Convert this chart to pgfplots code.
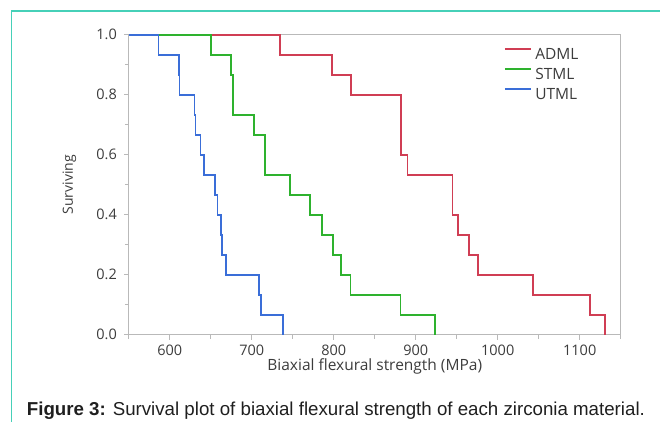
\documentclass[border=0pt]{standalone}
\usepackage{fontspec}
\setmainfont{Open Sans}
\newfontfamily\capfont{Liberation Sans}
\usepackage{pgfplots}
\pgfplotsset{compat=1.18}
\definecolor{admlred}{RGB}{208,62,84}
\definecolor{stmlgreen}{RGB}{46,178,46}
\definecolor{utmlblue}{RGB}{58,110,216}
\definecolor{framegray}{RGB}{185,185,185}
\definecolor{tealframe}{RGB}{70,208,184}
\definecolor{labgray}{RGB}{60,60,60}
\pgfplotstableread{
x y
550 1
734.4 0.9333
797.9 0.8667
821.5 0.8
881.7 0.6
889.9 0.5333
944.9 0.4
951.7 0.3333
965.1 0.2667
976.1 0.2
1043.3 0.1333
1112.5 0.0667
1131 0
}\adml
\pgfplotstableread{
x y
550 1
649.8 0.9333
674.2 0.8667
677 0.7333
702.6 0.6667
716.5 0.5333
746.2 0.4667
771.5 0.4
786.1 0.3333
799.1 0.2667
809.3 0.2
820.3 0.1333
881.4 0.0667
923.5 0
}\stml
\pgfplotstableread{
x y
550 1
586.3 0.9333
611 0.8667
611.9 0.8
630.2 0.7333
631.4 0.6667
637.5 0.6
641.6 0.5333
655.5 0.4667
658.3 0.4
662 0.3333
663.6 0.2667
668.1 0.2
708.4 0.1333
710.8 0.0667
738.5 0
}\utml
\begin{document}
\begin{tikzpicture}[x=1pt,y=1pt]
\path[use as bounding box] (0,0) rectangle (660,421);
\draw[tealframe, line width=1.8pt] (11.5,-10) -- (11.5,410) -- (680,410);
\begin{axis}[
  at={(128.8pt,86.3pt)}, anchor=south west,
  scale only axis, width=491.9pt, height=300pt,
  xmin=550, xmax=1150, ymin=0, ymax=1,
  xtick={600,700,800,900,1000,1100},
  minor xtick={550,650,750,850,950,1050,1150},
  ytick={0,0.2,0.4,0.6,0.8,1.0},
  minor ytick={0.1,0.3,0.5,0.7,0.9},
  tick align=outside, tick pos=left,
  axis line style={framegray, line width=1pt},
  major tick length=5pt, minor tick length=4pt,
  every tick/.style={framegray, line width=0.8pt},
  /pgf/number format/assume math mode=true,
  yticklabel style={/pgf/number format/.cd, fixed, fixed zerofill, precision=1, /tikz/.cd, xshift=-3.4pt},
  xticklabel style={/pgf/number format/.cd, fixed, set thousands separator={}, /tikz/.cd, yshift=-1.5pt},
  ticklabel style={font=\fontsize{14.5}{16}\selectfont, text=labgray},
  xlabel={Biaxial flexural strength (MPa)},
  ylabel={Surviving},
  xlabel style={at={([yshift=-35.3pt]axis description cs:0.5,0)}, anchor=base, inner sep=0pt,
    font=\fontsize{15.5}{17}\selectfont, text=labgray},
  ylabel style={at={([xshift=-59.5pt]axis description cs:0,0.5)}, anchor=center, inner sep=0pt,
    font=\fontsize{14}{16}\selectfont, text=labgray},
  legend style={draw=none, fill=none, at={(axis cs:1007.5,0.955)}, anchor=north west,
    inner sep=0pt, row sep=8.5pt,
    nodes={inner sep=0pt, text height=10.5pt, text depth=0pt, font=\fontsize{15.5}{17}\selectfont, text=labgray},
    /tikz/every odd column/.append style={column sep=3.5pt}},
  legend image code/.code={\draw[#1] (0pt,5.25pt) -- (26pt,5.25pt);},
  legend cell align=left,
]
\addplot[const plot, admlred, line width=1.8pt] table[x=x,y=y] {\adml};
\addplot[const plot, stmlgreen, line width=1.8pt] table[x=x,y=y] {\stml};
\addplot[const plot, utmlblue, line width=1.8pt] table[x=x,y=y] {\utml};
\legend{ADML,STML,UTML}
\end{axis}
\node[anchor=base west, inner sep=0pt, text=black!88, font=\capfont\fontsize{18.7}{20}\selectfont] at (26.7,6) {\textbf{Figure 3:} Survival plot of biaxial flexural strength of each zirconia material.};
\end{tikzpicture}
\end{document}
